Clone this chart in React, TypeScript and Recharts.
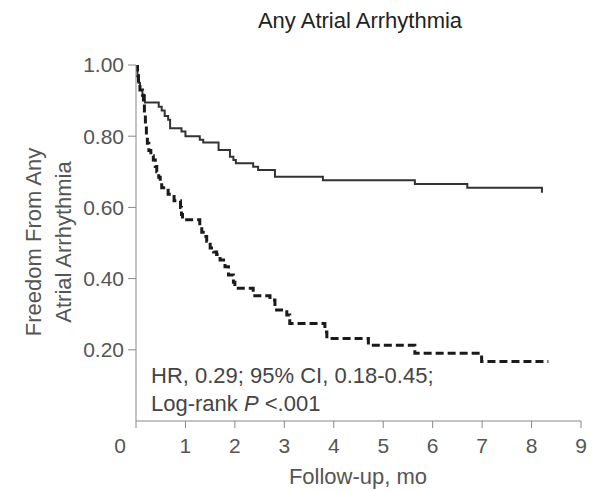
import React from 'react';
import { LineChart, Line, XAxis, YAxis } from 'recharts';

const xTicks = [0, 1, 2, 3, 4, 5, 6, 7, 8, 9];
const yTicks = [0.2, 0.4, 0.6, 0.8, 1.0];

const solidTimes = [0, 0.03, 0.05, 0.08, 0.13, 0.18, 0.46, 0.52, 0.58, 0.65, 0.69, 0.92, 1.0, 1.29, 1.36, 1.67, 1.9, 1.97, 2.02, 2.37, 2.47, 2.81, 3.78, 5.64, 6.7, 8.21, 8.23];
const solidSurv = [1.0, 0.97, 0.95, 0.93, 0.915, 0.895, 0.883, 0.872, 0.857, 0.846, 0.822, 0.813, 0.8, 0.79, 0.782, 0.761, 0.742, 0.733, 0.724, 0.714, 0.705, 0.686, 0.676, 0.666, 0.655, 0.644, 0.644];

const dashedTimes = [0, 0.03, 0.05, 0.08, 0.13, 0.15, 0.17, 0.19, 0.21, 0.23, 0.26, 0.3, 0.35, 0.39, 0.42, 0.46, 0.49, 0.52, 0.65, 0.77, 0.9, 0.92, 0.94, 1.29, 1.33, 1.36, 1.43, 1.5, 1.57, 1.63, 1.7, 1.77, 1.8, 1.87, 1.97, 2.0, 2.37, 2.71, 2.81, 3.05, 3.11, 3.82, 3.86, 4.7, 5.64, 6.99, 8.34];
const dashedSurv = [1.0, 0.97, 0.95, 0.93, 0.915, 0.89, 0.86, 0.83, 0.8, 0.78, 0.76, 0.745, 0.733, 0.715, 0.7, 0.685, 0.672, 0.655, 0.637, 0.619, 0.6, 0.58, 0.565, 0.546, 0.53, 0.518, 0.505, 0.486, 0.475, 0.468, 0.452, 0.443, 0.433, 0.41, 0.39, 0.373, 0.352, 0.34, 0.312, 0.298, 0.274, 0.25, 0.232, 0.213, 0.19, 0.167, 0.167];

const solidData = solidTimes.map((t, i) => ({ t, s: solidSurv[i] }));
const dashedData = dashedTimes.map((t, i) => ({ t, s: dashedSurv[i] }));

const W = 598;
const H = 491;
const FONT = '"Liberation Sans", Arial, Helvetica, sans-serif';
const TEXT = '#555';
const AXIS = '#888';

const XTick = (props: any) => {
  const { x, y, payload } = props;
  const dx = payload.value === 0 ? -16 : 0;
  return (
    <text x={x + dx} y={y} dy="0.71em" textAnchor="middle" fill={TEXT} fontSize={21} fontFamily={FONT}>
      {payload.value}
    </text>
  );
};

const YTick = (props: any) => {
  const { x, y, payload } = props;
  return (
    <text x={x} y={y} dy="0.355em" textAnchor="end" fill={TEXT} fontSize={21} fontFamily={FONT}>
      {Number(payload.value).toFixed(2)}
    </text>
  );
};

export default function App() {
  return (
    <div style={{ position: 'absolute', left: 0, top: 0, width: W, height: H, background: '#fff' }}>
      <LineChart width={W} height={H} margin={{ top: 65, right: 17, left: 0, bottom: 0 }}>
        <XAxis
          type="number"
          dataKey="t"
          domain={[0, 9]}
          ticks={xTicks}
          interval={0}
          height={70}
          tickSize={7}
          tickMargin={10}
          stroke={AXIS}
          tickLine={{ stroke: AXIS }}
          tick={<XTick />}
          allowDataOverflow
        />
        <YAxis
          type="number"
          domain={[0, 1]}
          ticks={yTicks}
          interval={0}
          width={136}
          tickSize={8}
          tickMargin={4}
          stroke={AXIS}
          tickLine={{ stroke: AXIS }}
          tick={<YTick />}
          allowDataOverflow
        />
        <Line
          data={solidData}
          dataKey="s"
          type="stepAfter"
          stroke="#333"
          strokeWidth={2}
          dot={false}
          isAnimationActive={false}
        />
        <Line
          data={dashedData}
          dataKey="s"
          type="stepAfter"
          stroke="#1a1a1a"
          strokeWidth={3}
          strokeDasharray="8 4"
          dot={false}
          isAnimationActive={false}
        />
      </LineChart>
      <svg width={W} height={H} style={{ position: 'absolute', left: 0, top: 0, pointerEvents: 'none' }}>
        <text x={360} y={28} textAnchor="middle" fill="#222" fontSize={22} fontFamily={FONT}>
          Any Atrial Arrhythmia
        </text>
        <text x={358} y={484} textAnchor="middle" fill={TEXT} fontSize={22} fontFamily={FONT}>
          Follow-up, mo
        </text>
        <text transform="translate(41,242) rotate(-90)" textAnchor="middle" fill={TEXT} fontSize={22} fontFamily={FONT}>
          Freedom From Any
        </text>
        <text transform="translate(71,242) rotate(-90)" textAnchor="middle" fill={TEXT} fontSize={22} fontFamily={FONT}>
          Atrial Arrhythmia
        </text>
        <text x={151} y={383} fill="#444" fontSize={22} fontFamily={FONT}>
          HR, 0.29; 95% CI, 0.18-0.45;
        </text>
        <text x={151} y={411} fill="#444" fontSize={22} fontFamily={FONT}>
          Log-rank <tspan fontStyle="italic">P</tspan> &lt;.001
        </text>
      </svg>
    </div>
  );
}
